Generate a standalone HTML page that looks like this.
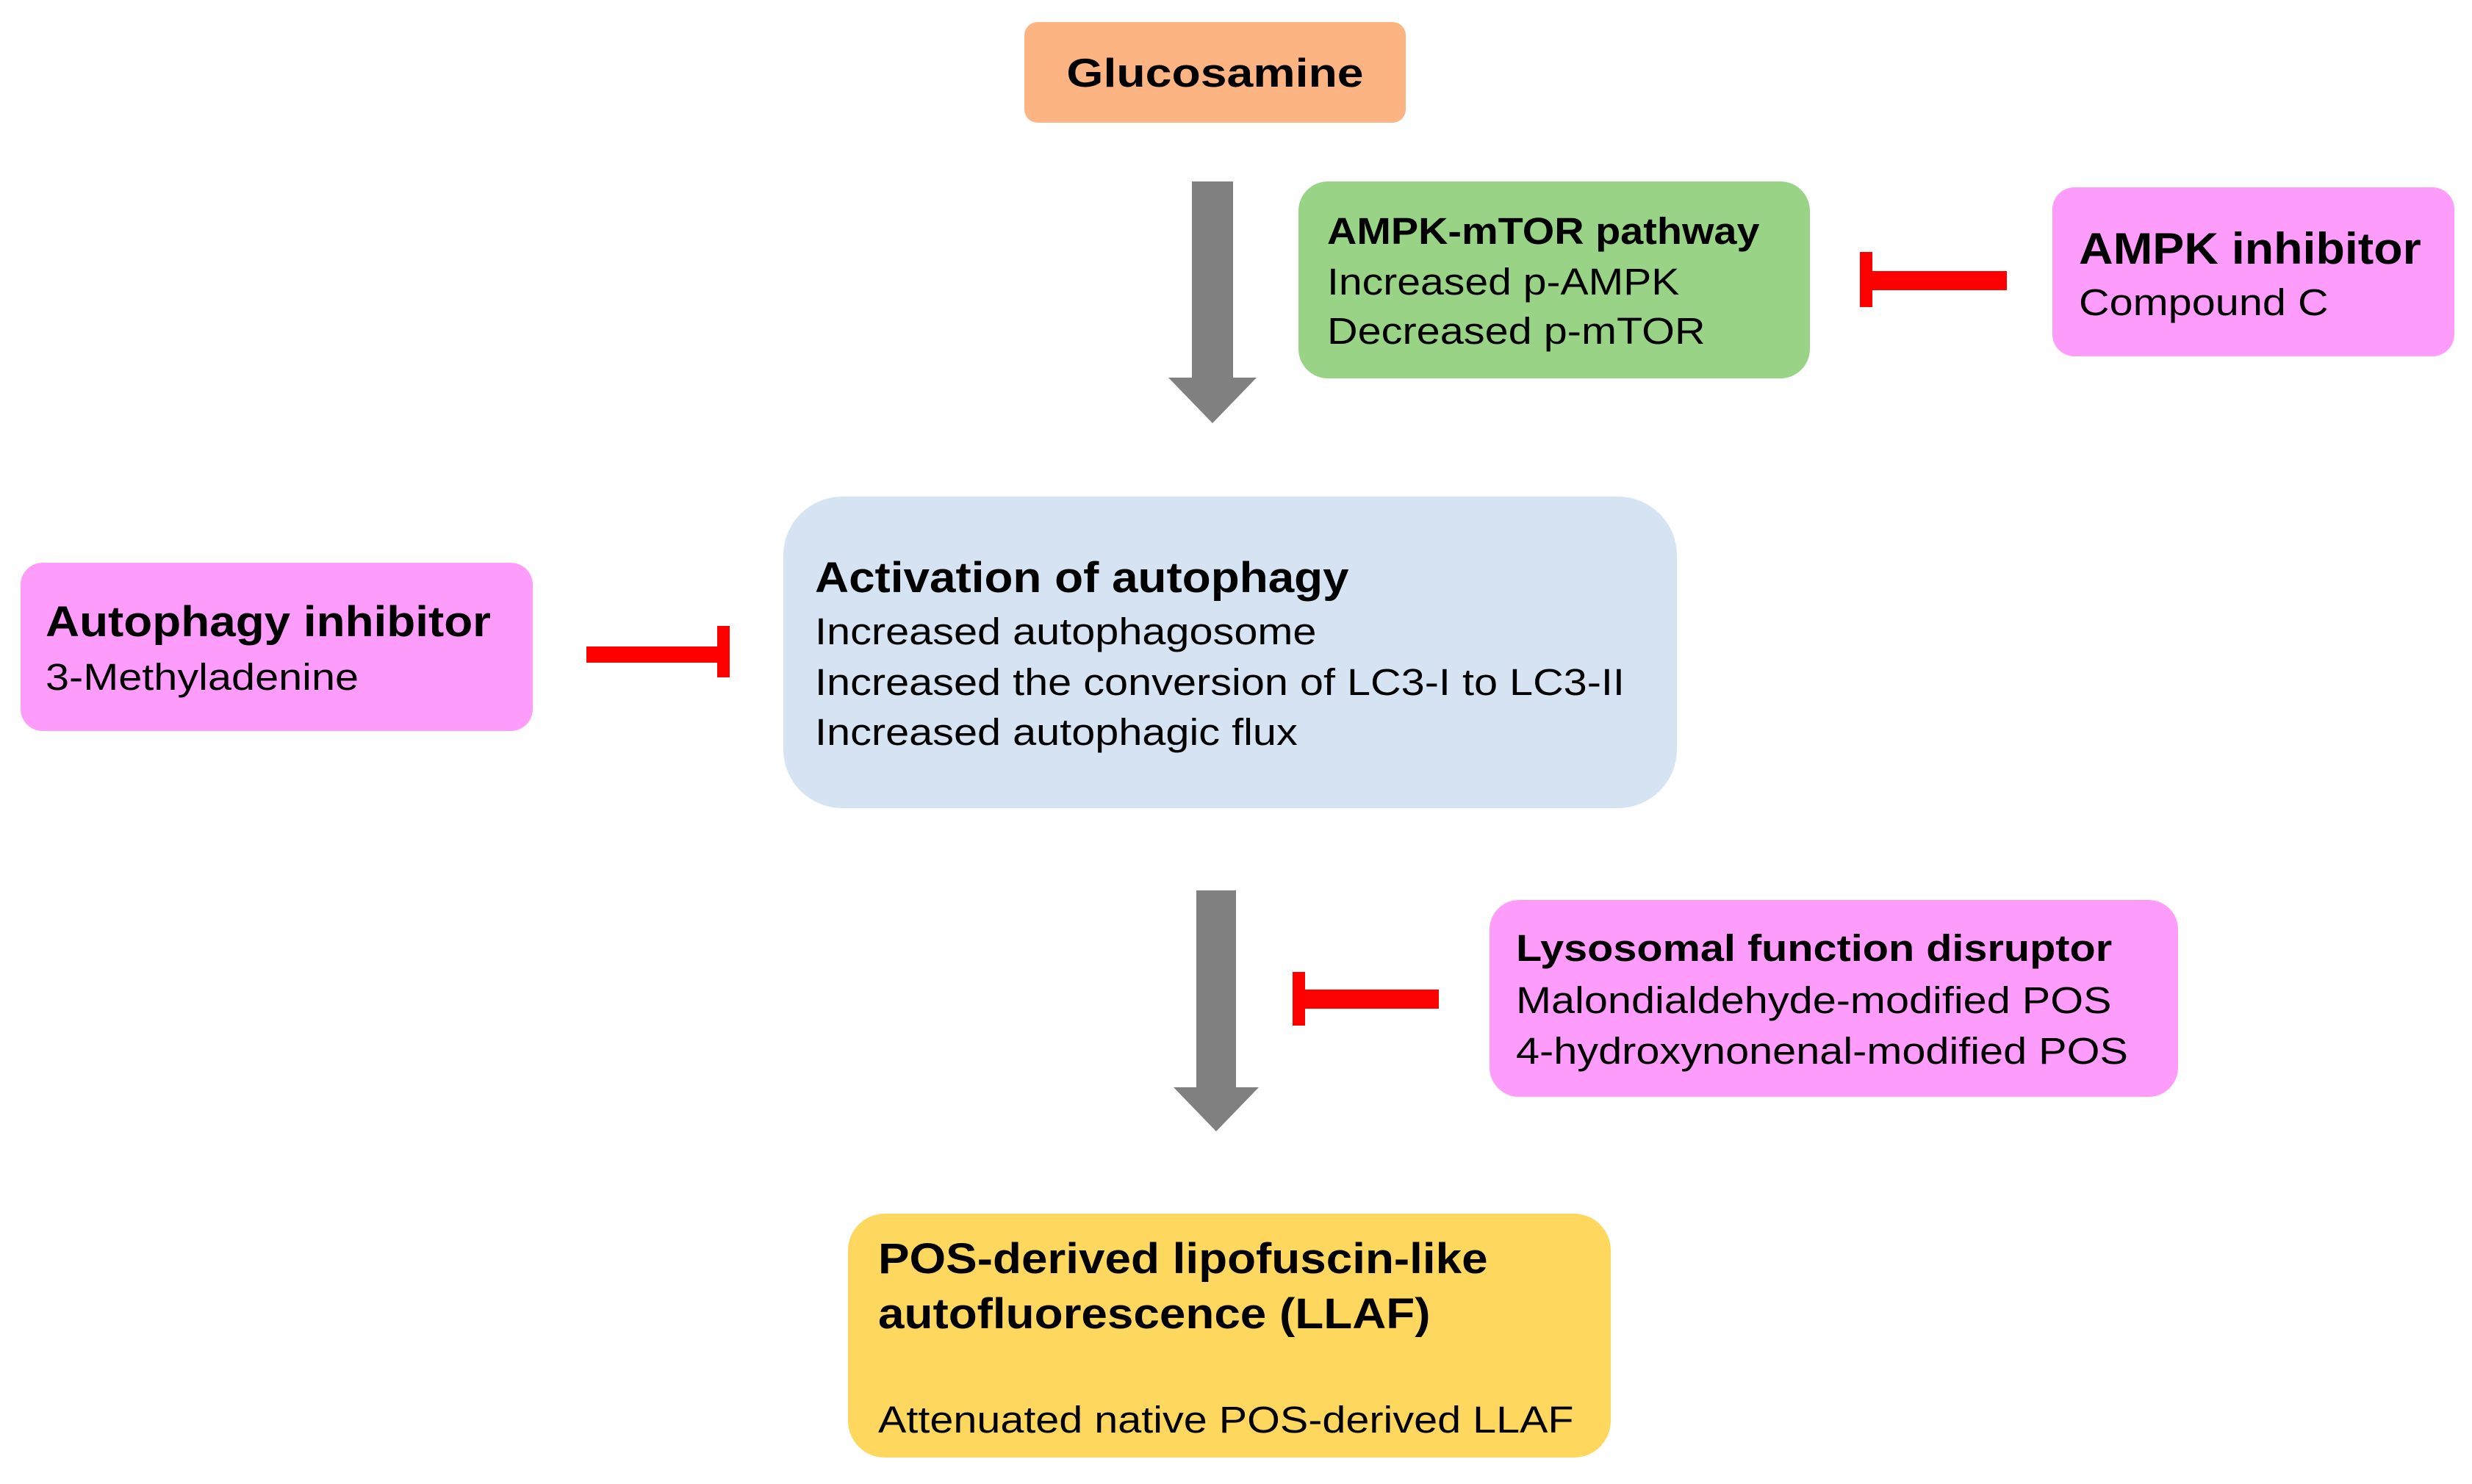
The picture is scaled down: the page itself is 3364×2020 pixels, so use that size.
<!DOCTYPE html>
<html><head><meta charset="utf-8"><style>
body{margin:0;width:3364px;height:2020px;background:#fff;position:relative;overflow:hidden;font-family:"Liberation Sans",Arial,sans-serif;color:#000}
.b{position:absolute}
.t{position:absolute;white-space:nowrap;height:70px;line-height:70px;font-size:51px;transform:scaleX(1.13);transform-origin:0 50%}
.bold{font-weight:bold}
.r{position:absolute;background:#ff0000}
.g{position:absolute;background:#808080}
</style></head><body>
<div class="b" style="left:1394px;top:30px;width:519px;height:137px;background:#fcb482;border-radius:18px"></div>
<div class="t bold" style="left:1394px;width:519px;text-align:center;top:64px;font-size:55px;transform:scaleX(1.17);transform-origin:50% 50%">Glucosamine</div>

<div class="g" style="left:1622px;top:247px;width:56px;height:270px"></div>
<svg class="b" style="left:1590px;top:514px" width="120" height="62"><polygon points="0,0 120,0 60,62" fill="#808080"/></svg>

<div class="b" style="left:1767px;top:247px;width:696px;height:268px;background:#98d386;border-radius:40px"></div>
<div class="t bold" style="left:1806px;top:280px;transform:scaleX(1.095)">AMPK-mTOR pathway</div>
<div class="t" style="left:1806px;top:349px;transform:scaleX(1.12)">Increased p-AMPK</div>
<div class="t" style="left:1806px;top:416px;transform:scaleX(1.13)">Decreased p-mTOR</div>

<div class="r" style="left:2531px;top:343px;width:17px;height:75px"></div>
<div class="r" style="left:2548px;top:369px;width:183px;height:26px"></div>

<div class="b" style="left:2793px;top:255px;width:547px;height:230px;background:#fd9cfb;border-radius:30px"></div>
<div class="t bold" style="left:2829px;top:304px;font-size:60px;transform:scaleX(1.075)">AMPK inhibitor</div>
<div class="t" style="left:2829px;top:377px">Compound C</div>

<div class="b" style="left:1066px;top:676px;width:1216px;height:424px;background:#d6e3f3;border-radius:80px"></div>
<div class="t bold" style="left:1109px;top:752px;font-size:58px;transform:scaleX(1.1)">Activation of autophagy</div>
<div class="t" style="left:1109px;top:825px">Increased autophagosome</div>
<div class="t" style="left:1109px;top:894px">Increased the conversion of LC3-I to LC3-II</div>
<div class="t" style="left:1109px;top:962px">Increased autophagic flux</div>

<div class="b" style="left:28px;top:766px;width:697px;height:229px;background:#fd9cfb;border-radius:30px"></div>
<div class="t bold" style="left:62px;top:812px;font-size:58px;transform:scaleX(1.1)">Autophagy inhibitor</div>
<div class="t" style="left:62px;top:887px">3-Methyladenine</div>

<div class="r" style="left:798px;top:880px;width:185px;height:22px"></div>
<div class="r" style="left:976px;top:852px;width:17px;height:70px"></div>

<div class="g" style="left:1628px;top:1212px;width:54px;height:270px"></div>
<svg class="b" style="left:1597px;top:1480px" width="116" height="60"><polygon points="0,0 116,0 58,60" fill="#808080"/></svg>

<div class="r" style="left:1759px;top:1323px;width:17px;height:73px"></div>
<div class="r" style="left:1776px;top:1347px;width:182px;height:26px"></div>

<div class="b" style="left:2027px;top:1225px;width:937px;height:268px;background:#fd9cfb;border-radius:40px"></div>
<div class="t bold" style="left:2063px;top:1256px">Lysosomal function disruptor</div>
<div class="t" style="left:2063px;top:1327px">Malondialdehyde-modified POS</div>
<div class="t" style="left:2063px;top:1396px">4-hydroxynonenal-modified POS</div>

<div class="b" style="left:1154px;top:1652px;width:1038px;height:332px;background:#fed85e;border-radius:50px"></div>
<div class="t bold" style="left:1195px;top:1679px;font-size:58px;transform:scaleX(1.1)">POS-derived lipofuscin-like</div>
<div class="t bold" style="left:1195px;top:1754px;font-size:58px;transform:scaleX(1.1)">autofluorescence (LLAF)</div>
<div class="t" style="left:1195px;top:1898px;transform:scaleX(1.128)">Attenuated native POS-derived LLAF</div>
</body></html>
